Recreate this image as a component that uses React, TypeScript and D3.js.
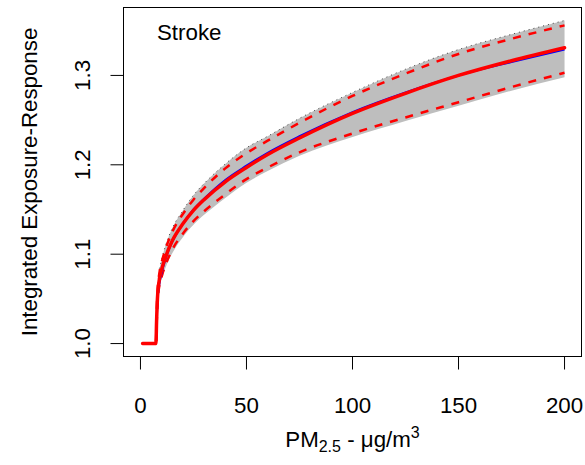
import React from "react";
import * as d3 from "d3";

const xs = [7.3, 7.6, 8, 9, 10, 12, 15, 20, 25, 30, 40, 50, 60, 75, 100, 125, 150, 175, 200];
const central = [1.0, 1.025, 1.05, 1.073, 1.083, 1.098, 1.115, 1.134, 1.149, 1.161, 1.181, 1.197, 1.2115, 1.23, 1.2575, 1.28, 1.3, 1.3165, 1.331];
const centralBlue = [1.0, 1.02, 1.045, 1.068, 1.079, 1.096, 1.114, 1.134, 1.15, 1.162, 1.183, 1.199, 1.2135, 1.232, 1.259, 1.281, 1.3, 1.315, 1.329];
const upperDash = [1.0, 1.03, 1.056, 1.08, 1.091, 1.107, 1.125, 1.145, 1.161, 1.174, 1.196, 1.213, 1.227, 1.247, 1.277, 1.302, 1.324, 1.341, 1.356];
const lowerDash = [1.0, 1.02, 1.044, 1.066, 1.075, 1.089, 1.105, 1.123, 1.137, 1.148, 1.167, 1.184, 1.197, 1.214, 1.235, 1.253, 1.27, 1.287, 1.303];
const bandUpper = [1.0, 1.032, 1.059, 1.083, 1.094, 1.111, 1.129, 1.149, 1.166, 1.179, 1.201, 1.219, 1.232, 1.252, 1.281, 1.307, 1.329, 1.346, 1.3615];
const bandLower = [1.0, 1.018, 1.041, 1.063, 1.072, 1.086, 1.101, 1.119, 1.133, 1.144, 1.163, 1.18, 1.193, 1.21, 1.231, 1.249, 1.266, 1.283, 1.298];
const flatXs = [1, 7.3];
const flatYs = [1.0, 1.0];

const xTicks = [0, 50, 100, 150, 200];
const yTicks = [1.0, 1.1, 1.2, 1.3];
const panelLabel = "Stroke";
const yTitle = "Integrated Exposure-Response";

const FONT = "'Liberation Sans', Arial, sans-serif";
const FS = 22.3;

export default function App() {
  const left = 123.5, right = 581.5, top = 7.5, bottom = 356.5;
  const x = d3.scaleLinear().domain([-8, 208]).range([left, right]);
  const y = d3.scaleLinear().domain([0.98554, 1.376]).range([bottom, top]);

  const mk = (vals: number[]) => xs.map((v, i) => [v, vals[i]] as [number, number]);
  const line = d3
    .line<[number, number]>()
    .x((d) => x(d[0]))
    .y((d) => y(d[1]))
    .curve(d3.curveMonotoneX);
  const area = d3
    .area<number>()
    .x((_, i) => x(xs[i]))
    .y0((_, i) => y(bandLower[i]))
    .y1((_, i) => y(bandUpper[i]))
    .curve(d3.curveMonotoneX);

  const flat = flatXs.map((v, i) => [v, flatYs[i]] as [number, number]);
  const withFlat = (vals: number[]) => [flat[0], ...mk(vals)];

  return (
    <svg
      width={585}
      height={465}
      style={{ position: "absolute", left: 0, top: 0, background: "#fff" }}
      fontFamily={FONT}
    >
      <rect x={0} y={0} width={585} height={465} fill="#fff" />
      <path d={area(xs) || ""} fill="#BEBEBE" stroke="none" />
      <path d={line(mk(bandUpper)) || ""} fill="none" stroke="#333" strokeWidth={0.9} strokeDasharray="1,4" />
      <path d={line(withFlat(lowerDash)) || ""} fill="none" stroke="#FF0000" strokeWidth={2.5} strokeDasharray="8,8" />
      <path d={line(withFlat(upperDash)) || ""} fill="none" stroke="#FF0000" strokeWidth={2.5} strokeDasharray="8,8" />
      <path d={line(withFlat(centralBlue)) || ""} fill="none" stroke="#0000FF" strokeWidth={2} />
      <path d={line(withFlat(central)) || ""} fill="none" stroke="#FF0000" strokeWidth={3.5} strokeLinecap="round" strokeLinejoin="round" />

      <rect x={left} y={top} width={right - left} height={bottom - top} fill="none" stroke="#000" strokeWidth={1} />

      {xTicks.map((t) => (
        <g key={"x" + t}>
          <line x1={x(t)} x2={x(t)} y1={bottom} y2={bottom + 13} stroke="#000" />
          <text x={x(t)} y={413} fontSize={FS} textAnchor="middle" fill="#000">
            {t}
          </text>
        </g>
      ))}
      {yTicks.map((t) => (
        <g key={"y" + t}>
          <line x1={left} x2={left - 13} y1={y(t)} y2={y(t)} stroke="#000" />
          <text
            transform={`translate(90,${y(t)}) rotate(-90)`}
            fontSize={FS}
            textAnchor="middle"
            fill="#000"
          >
            {t.toFixed(1)}
          </text>
        </g>
      ))}
      <text transform={`translate(37,${(top + bottom) / 2}) rotate(-90)`} fontSize={FS} textAnchor="middle" fill="#000">
        {yTitle}
      </text>
      <text x={(left + right) / 2} y={447} fontSize={FS} textAnchor="middle" fill="#000">
        PM<tspan fontSize={16} dy={5}>2.5</tspan>
        <tspan dy={-5}> - μg/m</tspan>
        <tspan fontSize={16} dy={-9}>3</tspan>
      </text>
      <text x={157} y={40} fontSize={FS} fill="#000">
        {panelLabel}
      </text>
    </svg>
  );
}
